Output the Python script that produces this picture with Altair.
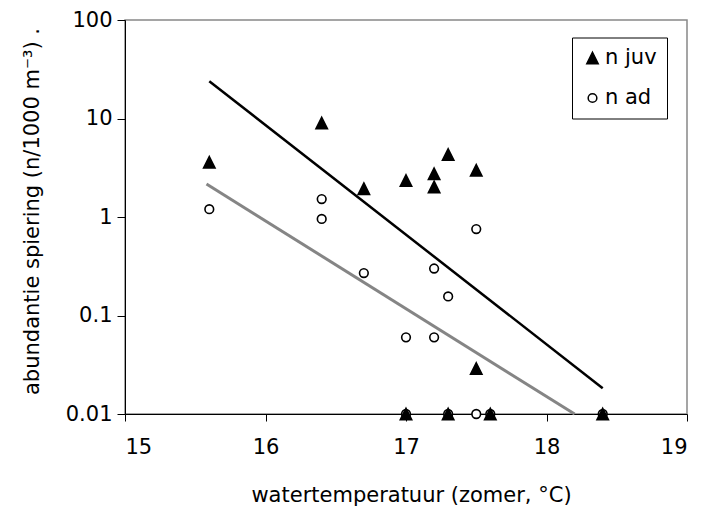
import altair as alt
import pandas as pd

# n juv (filled triangles)
juv_x = [15.6, 16.4, 16.7, 17.0, 17.2, 17.2, 17.3, 17.5, 17.5, 17.0, 17.3, 17.6, 18.4]
juv_y = [3.6, 9.0, 1.94, 2.35, 2.75, 2.02, 4.3, 2.98, 0.029, 0.01, 0.01, 0.01, 0.01]
# n ad (open circles)
ad_x = [15.6, 16.4, 16.4, 16.7, 17.0, 17.2, 17.2, 17.3, 17.5, 17.0, 17.3, 17.5, 17.6, 18.4]
ad_y = [1.2, 1.52, 0.955, 0.27, 0.06, 0.30, 0.06, 0.156, 0.755, 0.01, 0.01, 0.01, 0.01, 0.01]

# trend lines (end points)
juv_fit_x = [15.6, 18.4]
juv_fit_y = [23.9, 0.0183]
ad_fit_x = [15.58, 18.2]
ad_fit_y = [2.16, 0.01]

series = ["n juv", "n ad"]

# circles first so that triangles are drawn on top of them
pts = pd.DataFrame({
    "t": ad_x + juv_x,
    "a": ad_y + juv_y,
    "s": [series[1]] * len(ad_x) + [series[0]] * len(juv_x),
})
fit_juv = pd.DataFrame({"t": juv_fit_x, "a": juv_fit_y})
fit_ad = pd.DataFrame({"t": ad_fit_x, "a": ad_fit_y})

FONT = "DejaVu Sans"
FS = 21

xscale = alt.Scale(domain=[15, 19], nice=False, zero=False)
yscale = alt.Scale(type="log", domain=[0.01, 100], nice=False)

xax = alt.Axis(
    values=[15, 16, 17, 18, 19], format="d", grid=False,
    tickSize=7, labelPadding=15, labelFontSize=FS, labelColor="black",
    domainColor="black", tickColor="black",
    title="watertemperatuur  (zomer, °C)", titleFontSize=FS, titleFontWeight="normal",
    titleX=286, titleY=87, titleBaseline="alphabetic", titleColor="black",
)
yax = alt.Axis(
    values=[0.01, 0.1, 1, 10, 100], format=".2~f", grid=False,
    tickSize=8, labelPadding=5, labelFontSize=FS, labelColor="black",
    domainColor="black", tickColor="black",
    title="abundantie spiering (n/1000 m⁻³)   .", titleFontSize=FS, titleFontWeight="normal",
    titleX=-93, titleY=191, titleBaseline="middle", titleAngle=270, titleColor="black",
)

line_juv = alt.Chart(fit_juv).mark_line(color="black", strokeWidth=2.5).encode(
    x=alt.X("t:Q", scale=xscale, axis=xax),
    y=alt.Y("a:Q", scale=yscale, axis=yax),
)
line_ad = alt.Chart(fit_ad).mark_line(color="#858585", strokeWidth=3).encode(
    x=alt.X("t:Q", scale=xscale),
    y=alt.Y("a:Q", scale=yscale),
)

leg = alt.Legend(title=None)
points = alt.Chart(pts).mark_point(filled=True, strokeWidth=1.6, opacity=1).encode(
    x=alt.X("t:Q", scale=xscale),
    y=alt.Y("a:Q", scale=yscale),
    shape=alt.Shape("s:N", scale=alt.Scale(domain=series, range=["M0,-1L1,1L-1,1Z", "circle"]), legend=leg),
    fill=alt.Fill("s:N", scale=alt.Scale(domain=series, range=["black", "white"]), legend=leg),
    stroke=alt.Stroke("s:N", scale=alt.Scale(domain=series, range=["black", "black"]), legend=leg),
    size=alt.Size("s:N", scale=alt.Scale(domain=series, range=[130, 75]), legend=leg),
)

chart = alt.layer(line_ad, line_juv, points).properties(
    width=562, height=394,
    autosize=alt.AutoSizeParams(type="none"),
    padding={"left": 117, "top": 12, "right": 6, "bottom": 94},
).configure(font=FONT).configure_view(
    stroke="#888888", strokeWidth=1.5
).configure_legend(
    orient="none", legendX=447, legendY=17.5,
    strokeColor="black", strokeWidth=1, fillColor="white", padding=10,
    labelFontSize=FS, labelColor="black", labelFont=FONT,
    rowPadding=18, labelOffset=2, symbolStrokeWidth=1.5,
    cornerRadius=0,
)

chart.save("out.html", embed_options={"renderer": "svg", "actions": False})
